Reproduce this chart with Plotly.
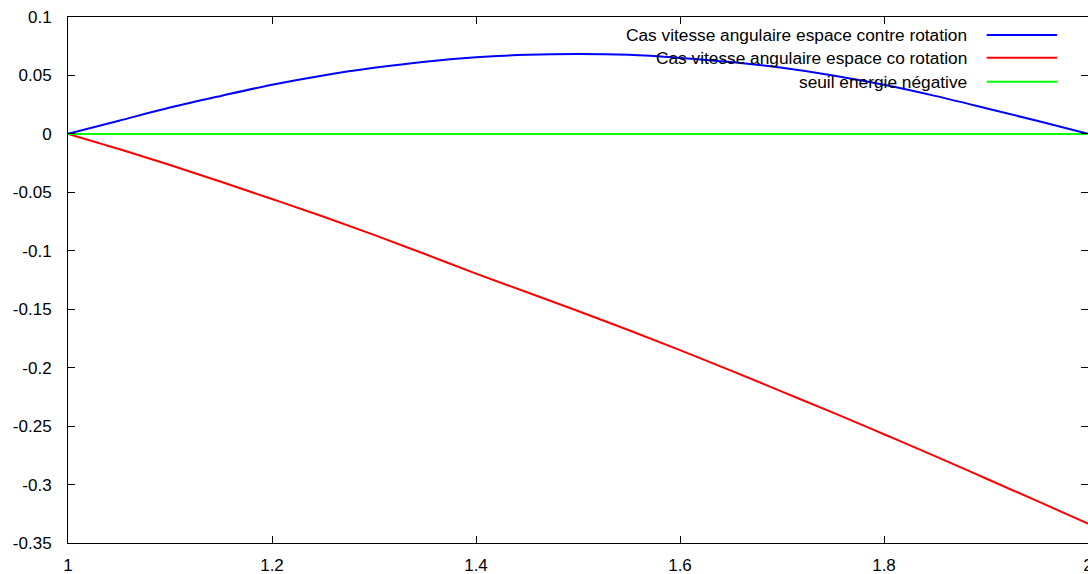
import plotly.graph_objects as go

# ---- data ----
x_vals = [1.00, 1.05, 1.10, 1.15, 1.20, 1.25, 1.30, 1.35, 1.40, 1.45, 1.50,
          1.55, 1.60, 1.65, 1.70, 1.75, 1.80, 1.85, 1.90, 1.95, 2.00]
contre_rotation = [0.0, 0.0113, 0.0225, 0.0325, 0.0420, 0.0500, 0.0565, 0.0618,
                   0.0655, 0.0677, 0.0684, 0.0676, 0.0650, 0.0615, 0.0565, 0.0500,
                   0.0420, 0.0325, 0.0220, 0.0112, 0.0]
co_rotation = [0.0, -0.0130, -0.0266, -0.0410, -0.0557, -0.0707, -0.0864, -0.1028,
               -0.1195, -0.1355, -0.1515, -0.1680, -0.1850, -0.2025, -0.2205,
               -0.2385, -0.2570, -0.2757, -0.2948, -0.3140, -0.3335]
seuil = [0.0] * len(x_vals)

series_names = ["Cas vitesse angulaire espace contre rotation",
                "Cas vitesse angulaire espace co rotation",
                "seuil energie négative"]
series_colors = ["#0000ff", "#ff0000", "#00ff00"]

x_ticks = [1, 1.2, 1.4, 1.6, 1.8, 2]
x_ticktext = ["1", "1.2", "1.4", "1.6", "1.8", "2"]
y_ticks = [0.1, 0.05, 0, -0.05, -0.1, -0.15, -0.2, -0.25, -0.3, -0.35]
y_ticktext = ["0.1", "0.05", "0", "-0.05", "-0.1", "-0.15", "-0.2", "-0.25", "-0.3", "-0.35"]

FONT = "Liberation Sans, Arial, sans-serif"

fig = go.Figure()
for name, ys, col in zip(series_names, [contre_rotation, co_rotation, seuil], series_colors):
    fig.add_trace(go.Scatter(x=x_vals, y=ys, mode="lines", name=name,
                             line=dict(color=col, width=2, shape="spline", smoothing=1.0),
                             showlegend=False, hoverinfo="skip"))

# manual gnuplot-style legend (text right-aligned, sample line on the right)
legend_y = [0.9658, 0.9226, 0.877]
for name, col, ly in zip(series_names, series_colors, legend_y):
    fig.add_annotation(x=0.8833, y=ly, xref="paper", yref="paper", text=name,
                       showarrow=False, xanchor="right", yanchor="middle",
                       font=dict(family=FONT, size=17.3, color="black"))
    fig.add_shape(type="line", xref="paper", yref="paper", x0=0.9007, x1=0.9696,
                  y0=ly, y1=ly, line=dict(color=col, width=2))

axis_common = dict(showgrid=False, zeroline=False, showline=True, linecolor="black",
                   linewidth=1, mirror="ticks", ticks="inside", ticklen=7,
                   tickcolor="black", tickwidth=1, automargin=False,
                   ticklabeloverflow="allow",
                   tickfont=dict(family=FONT, size=17, color="black"))

fig.update_xaxes(range=[1, 2], tickvals=x_ticks, ticktext=x_ticktext,
                 ticklabelstandoff=7, **axis_common)
fig.update_yaxes(range=[-0.35, 0.1], tickvals=y_ticks, ticktext=y_ticktext,
                 ticklabelstandoff=12, **axis_common)

fig.update_layout(width=1088, height=574, template="none",
                  margin=dict(l=68, r=0, t=17, b=31, pad=0),
                  paper_bgcolor="white", plot_bgcolor="white",
                  font=dict(family=FONT, size=17, color="black"))

fig.write_html("out.html",
               config={"displayModeBar": False, "staticPlot": True},
               post_script="document.body.style.margin='0';"
                           "document.body.style.overflow='hidden';")
